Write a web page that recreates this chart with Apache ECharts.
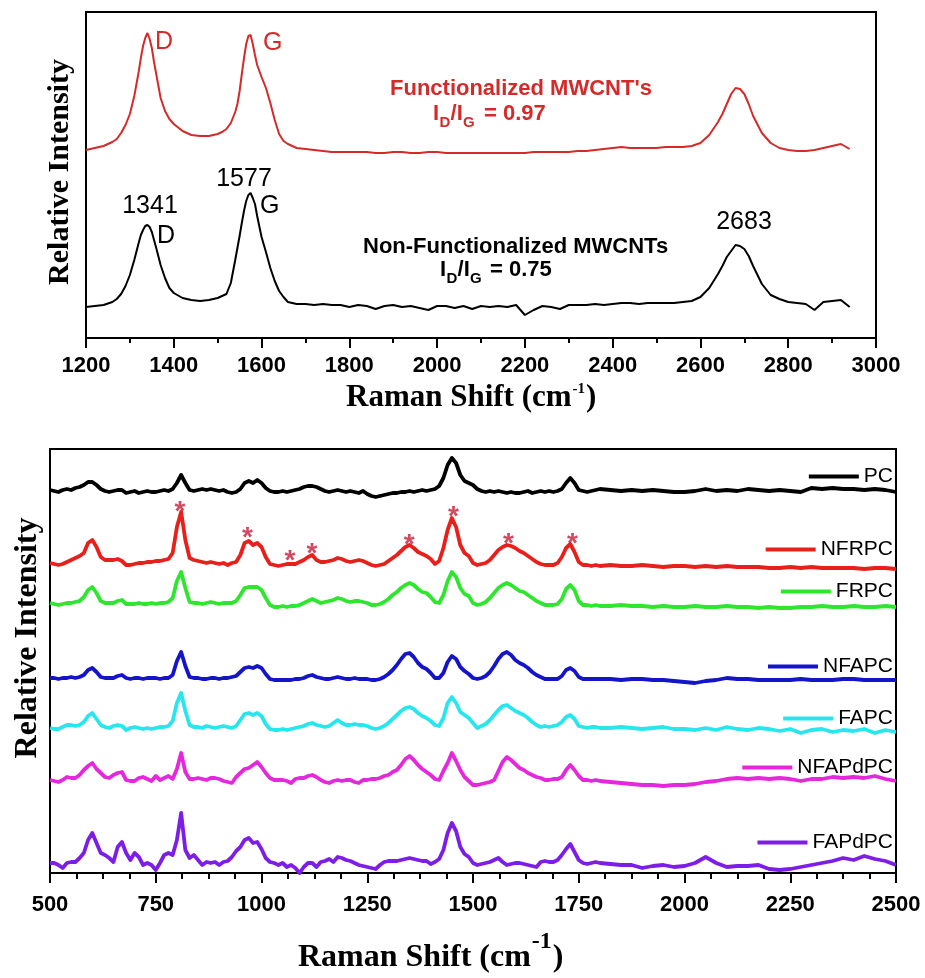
<!DOCTYPE html>
<html><head><meta charset="utf-8">
<script src="https://cdn.jsdelivr.net/npm/echarts@6/dist/echarts.min.js"></script>
<style>html,body{margin:0;padding:0;background:#fff}#c{width:925px;height:978px}</style>
</head><body><div id="c"></div>
<script>
// ---------- Top panel: MWCNT Raman spectra ----------
const topX = [1200,1220,1240,1260,1270,1280,1290,1300,1310,1320,1325,1330,1335,1340,1345,1350,1355,1360,1370,1380,1390,1400,1420,1440,1460,1480,1500,1510,1520,1530,1540,1545,1550,1555,1560,1565,1570,1575,1580,1585,1590,1600,1610,1620,1630,1640,1650,1660,1680,1700,1720,1740,1760,1780,
1800,1820,1840,1860,1880,1900,1920,1940,1960,1980,2000,2020,2040,2060,2080,2100,2120,2140,2160,2180,2200,2220,2240,2260,2280,2300,2320,2340,2360,2380,2400,2420,2440,2460,2480,2500,2520,2540,2560,
2580,2600,2620,2640,2650,2660,2670,2680,2690,2700,2710,2720,2740,2760,2780,2800,2820,2840,2860,2880,2900,2920,2940];
const functionalized = [188,190,192,196,199,205,213,224,242,266,280,292,300,305,299,290,276,264,240,227,219,214,207,203,202,202,204,206,209,215,226,234,247,264,280,294,302,303,294,283,273,261,250,235,218,204,197,194,190,189,188,187,186,186,
186,186,186,185,185,186,186,185,185,186,186,185,185,185,185,185,185,185,185,185,185,186,186,186,186,186,187,187,188,189,190,191,190,190,190,190,191,191,191,
192,195,203,216,224,234,244,250,249,244,234,222,205,195,190,188,187,187,188,190,192,194,189];
const nonFunctionalized = [31,32,33,36,39,44,52,63,78,95,103,108,112,113,111,106,98,90,73,60,50,45,40,38,37,38,40,42,44,55,78,90,102,115,127,137,143,145,140,134,122,101,86,70,57,47,41,36,34,34,33,34,33,33,
31,33,32,29,32,33,31,32,30,28,32,32,30,32,29,32,31,32,31,33,23,28,32,31,29,33,33,33,34,33,34,35,35,34,35,35,35,35,36,
37,41,50,64,72,81,87,93,92,89,82,72,54,43,39,36,35,34,28,36,37,38,31];

// ---------- Bottom panel: composite spectra ----------
const botX = [500,510,520,530,540,550,560,570,580,590,600,610,620,630,640,650,660,670,680,690,700,710,720,730,740,750,760,770,780,790,
800,810,820,830,840,850,860,870,880,890,900,910,920,930,940,950,960,970,980,990,1000,1010,1020,1030,1040,1050,1060,1070,1080,1090,
1100,1110,1120,1130,1140,1150,1160,1170,1180,1190,1200,1210,1220,1230,1240,1250,1260,1270,1280,1290,1300,1310,1320,1330,1340,1350,1360,1370,1380,1390,
1400,1410,1420,1430,1440,1450,1460,1470,1480,1490,1500,1510,1520,1530,1540,1550,1560,1570,1580,1590,1600,1610,1620,1630,1640,1650,1660,1670,1680,1690,
1700,1710,1720,1730,1740,1750,1760,1770,1780,1790,1800,
1825,1850,1875,1900,1925,1950,1975,2000,2025,2050,2075,2100,2125,2150,2175,2200,2225,2250,2275,2300,2325,2350,2375,2400,2425,2450,2475,2500];
const PC = [383,382,381,383,384,383,385,386,388,391, 391,388,384,382,381,382,383,383,380,381, 382,380,381,382,381,381,382,383,382,384,
390,398,390,383,382,383,384,383,384,383, 382,383,381,380,381,384,390,392,390,393, 390,385,382,381,381,382,381,382,383,384,
386,387,387,386,384,382,381,382,383,382, 381,382,381,380,382,379,377,376,377,378, 379,380,380,381,381,382,381,382,383,382,
383,384,387,395,408,415,410,398,392,390, 388,384,382,381,382,381,382,381,380,381, 380,380,381,382,380,381,382,381,382,381,
382,384,390,395,390,383,382,381,382,383, 384,
383,382,383,382,383,382,381,381,382,384,382,383,382,384,383,382,383,382,381,385,384,385,384,384,383,384,383,381];
const NFRPC = [310,309,308,309,311,313,315,317,320,330, 333,326,316,313,313,313,314,312,308,308, 309,310,310,311,311,312,312,313,314,320,
346,361,333,315,313,312,311,310,311,310, 309,310,308,310,311,318,330,332,328,330, 326,316,309,308,307,308,309,309,309,311,
313,316,318,313,311,311,312,313,315,314, 312,311,312,313,312,310,308,307,308,309, 312,315,318,322,326,328,325,321,319,317,
314,309,312,325,343,355,346,328,320,317, 310,308,309,310,313,318,323,326,328,327, 325,322,320,317,314,311,309,308,308,308,
310,316,325,329,321,311,308,308,307,308, 307,
308,307,307,308,307,306,307,307,306,307,306,307,306,306,306,305,305,306,305,306,305,305,305,305,304,305,305,304];
const FRPC = [270,269,268,269,270,270,271,272,276,283, 286,280,272,270,270,270,272,273,269,269, 269,270,269,269,270,269,270,270,271,275,
292,301,285,271,270,270,269,270,271,270, 269,270,270,270,272,278,285,286,286,286, 283,275,268,266,266,267,266,267,267,268,
270,272,274,272,270,271,272,273,275,274, 272,271,272,272,271,270,268,268,269,271, 274,278,281,285,288,290,288,284,281,280,
276,271,270,278,292,301,296,285,279,277, 270,268,269,271,275,280,285,288,290,288, 285,282,281,278,275,272,270,268,268,268,
269,274,284,288,283,272,268,268,267,268, 267,
267,268,267,267,266,267,266,266,267,266,266,267,266,266,265,266,265,265,266,266,267,266,266,267,266,266,267,266];
const NFAPC = [195,195,194,195,195,196,195,196,198,203, 205,201,196,195,195,195,197,198,195,194, 195,195,194,195,195,195,194,195,195,198,
212,221,207,196,195,195,194,194,195,195, 194,195,195,196,197,201,205,206,205,207, 205,199,194,193,193,193,193,193,194,194,
195,197,198,196,195,194,194,195,196,195, 194,194,195,194,194,194,193,193,194,196, 199,203,208,214,219,220,216,210,206,204,
200,195,195,200,211,217,214,206,202,199, 195,194,195,197,201,207,214,219,221,218, 213,210,208,205,201,198,196,194,194,194,
194,197,203,205,202,196,194,194,194,194, 194,
194,193,194,194,193,193,192,191,190,192,193,195,194,194,193,193,193,193,194,193,193,193,194,194,193,193,193,193];
const FAPC = [145,144,144,146,148,148,147,148,151,157, 160,154,148,146,145,147,148,147,143,145, 146,145,144,145,144,145,146,146,147,152,
170,180,162,148,146,146,145,147,146,145, 146,147,146,145,147,153,159,160,158,160, 157,149,144,143,143,144,143,144,145,146,
147,149,150,148,147,146,147,150,153,150, 148,148,149,148,148,147,145,144,145,147, 150,154,158,162,165,166,164,160,157,155,
152,148,147,155,170,176,170,161,158,155, 150,145,147,149,153,158,163,167,168,165, 162,160,158,155,151,148,146,147,146,147,
148,151,156,158,154,147,146,145,146,146, 145,
145,146,145,144,145,146,144,144,143,145,143,146,144,143,145,144,142,144,140,143,144,141,143,142,144,140,143,141];
const NFAPdPC = [93,92,91,93,96,95,95,98,103,107, 110,104,100,96,95,98,100,101,93,92, 92,95,96,94,92,97,93,95,97,94,
104,120,101,94,94,95,94,93,95,95, 94,92,91,90,96,100,104,105,108,111, 106,100,95,93,93,93,92,90,94,95,
95,97,98,96,93,91,90,92,93,92, 93,93,91,90,93,93,94,94,95,97, 98,101,103,108,114,117,113,108,104,101,
98,94,93,102,110,120,112,103,96,92, 88,88,89,90,91,93,102,111,116,113, 109,105,103,100,98,96,95,93,93,94,
94,96,103,108,103,97,93,93,92,93, 92,
91,90,89,88,88,87,88,88,89,91,92,94,95,94,95,94,95,94,92,94,94,96,95,96,95,97,94,92];
const FAPdPC = [10,10,8,5,10,11,11,15,20,33, 40,30,20,18,15,11,26,31,20,13, 20,16,8,10,8,3,10,18,20,18,
33,60,23,15,18,13,8,11,10,11, 8,11,12,16,22,26,33,35,30,31, 24,15,11,10,8,10,6,8,5,0,
6,10,10,6,11,12,14,11,16,15, 13,12,10,8,7,6,5,4,8,11, 12,12,12,13,14,15,14,13,12,12,
9,11,14,23,40,50,42,26,19,16, 10,8,9,10,11,13,15,11,8,9, 10,10,9,8,7,6,11,12,11,11,
13,18,24,29,21,13,10,9,10,11, 10,
9,8,8,5,7,8,6,7,10,16,10,6,7,7,8,4,3,4,6,8,10,12,15,13,17,14,12,8];
const starX = [807, 967, 1067, 1119, 1349, 1454, 1584, 1735];
const starY = [368, 342, 319, 326, 335, 363, 336, 336];

const botNames = ['PC','NFRPC','FRPC','NFAPC','FAPC','NFAPdPC','FAPdPC'];
const botSeries = [PC, NFRPC, FRPC, NFAPC, FAPC, NFAPdPC, FAPdPC];
const botColors = ['#000000','#e8201c','#2ee62e','#1414c8','#28e6ee','#e628dc','#7d1ee6'];
const legendCenters = [477, 550, 592, 667, 719, 768, 843];

const SANS = "'Liberation Sans', Arial, sans-serif";
const SERIF = "'Liberation Serif', 'Times New Roman', serif";

const pair = (xs, ys) => xs.map((x, i) => [x, ys[i]]);

function xAxisDef(gridIndex, min, max, interval, minorSplit, minorLen, margin) {
  return {
    type: 'value', gridIndex, min, max, interval,
    axisLine: {show: true, onZero: false, lineStyle: {color: '#000', width: 2}},
    axisTick: {show: true, inside: false, length: 10, lineStyle: {color: '#000', width: 2}},
    minorTick: {show: true, splitNumber: minorSplit, length: minorLen, lineStyle: {color: '#000', width: 2}},
    axisLabel: {show: true, margin, color: '#000', fontSize: 22, fontWeight: 'bold', fontFamily: SANS,
      formatter: v => String(v)},
    splitLine: {show: false}, minorSplitLine: {show: false}
  };
}
function yAxisDef(gridIndex, max) {
  return {
    type: 'value', gridIndex, min: 0, max,
    axisLine: {show: true, onZero: false, lineStyle: {color: '#000', width: 2}},
    axisTick: {show: false}, axisLabel: {show: false}, splitLine: {show: false}
  };
}

const series = [
  {name: "Functionalized MWCNT's", type: 'line', xAxisIndex: 0, yAxisIndex: 0, data: pair(topX, functionalized),
   showSymbol: false, symbol: 'none', lineStyle: {color: '#d42a2a', width: 2}, itemStyle: {color: '#d42a2a'}},
  {name: 'Non-Functionalized MWCNTs', type: 'line', xAxisIndex: 0, yAxisIndex: 0, data: pair(topX, nonFunctionalized),
   showSymbol: false, symbol: 'none', lineStyle: {color: '#000', width: 2}, itemStyle: {color: '#000'}}
];
botNames.forEach((n, k) => {
  series.push({name: n, type: 'line', xAxisIndex: 1, yAxisIndex: 1, data: pair(botX, botSeries[k]),
    showSymbol: false, symbol: 'none', lineStyle: {color: botColors[k], width: 3.8, join: 'round'}, itemStyle: {color: botColors[k]}});
});
series.push({name: 'marks', type: 'scatter', xAxisIndex: 1, yAxisIndex: 1, data: pair(starX, starY),
  symbol: 'circle', symbolSize: 1, itemStyle: {color: 'rgba(0,0,0,0)'}, silent: true, z: 5,
  label: {show: true, formatter: '*', position: 'inside', color: '#c41e3a', fontSize: 28, fontWeight: 'bold', fontFamily: SANS, offset: [0, 7]}});

const legends = botNames.map((n, k) => ({
  data: [n], right: 32, top: legendCenters[k] - 11, padding: 0, selectedMode: false,
  icon: 'rect', itemWidth: 50, itemHeight: 4,
  textStyle: {fontSize: 21, fontFamily: SANS, color: '#000'}
}));

function txt(x, y, text, opt) {
  return Object.assign({type: 'text', x, y, silent: true, z: 10,
    style: Object.assign({text, fontSize: 25, fontFamily: SANS, fill: '#000', align: 'left', verticalAlign: 'middle'}, opt || {})});
}
// I_D/I_G = value, built from main and subscript pieces
function ratioText(x0, y, col, value, eqGap) {
  const m = {fill: col, fontSize: 22, fontWeight: 'bold'};
  const s = {fill: col, fontSize: 15, fontWeight: 'bold'};
  return [
    txt(x0, y, 'I', m),
    txt(x0 + 6.6, y + 9, 'D', s),
    txt(x0 + 17.6, y, '/I', m),
    txt(x0 + 30, y + 9, 'G', s),
    txt(x0 + eqGap, y, '= ' + value, m)
  ];
}
// axis title with superscript
function axisTitle(x0, y, big, sup, supRaise) {
  const a = {fontSize: big, fontWeight: 'bold', fontFamily: SERIF};
  const wMain = 7.277 * big;
  const wSup = 0.833 * sup;
  return [
    txt(x0, y, 'Raman Shift (cm', a),
    txt(x0 + wMain + 1, y - supRaise, '-1', {fontSize: sup, fontWeight: 'bold', fontFamily: SERIF}),
    txt(x0 + wMain + wSup + 2, y, ')', a)
  ];
}

const RED = '#d42a2a';
const graphics = [
  txt(155, 42, 'D', {fill: RED}),
  txt(263, 43, 'G', {fill: RED}),
  txt(150, 206, '1341', {align: 'center'}),
  txt(157, 236, 'D'),
  txt(244, 179, '1577', {align: 'center'}),
  txt(260, 206, 'G'),
  txt(744, 222, '2683', {align: 'center'}),
  txt(390, 89, "Functionalized MWCNT's", {fill: RED, fontSize: 22, fontWeight: 'bold'}),
  ...ratioText(433, 114, RED, '0.97', 51),
  txt(363, 247, 'Non-Functionalized MWCNTs', {fontSize: 22, fontWeight: 'bold'}),
  ...ratioText(440, 270, '#000', '0.75', 50),
  ...axisTitle(346, 398, 31, 15, 9),
  Object.assign(txt(60, 172, 'Relative Intensity', {align: 'center', fontSize: 30, fontWeight: 'bold', fontFamily: SERIF}), {rotation: Math.PI / 2}),
  ...axisTitle(298, 958, 32, 24, 16),
  Object.assign(txt(28, 638, 'Relative Intensity', {align: 'center', fontSize: 32, fontWeight: 'bold', fontFamily: SERIF}), {rotation: Math.PI / 2})
];

const chart = echarts.init(document.getElementById('c'), null, {renderer: 'canvas'});
chart.setOption({
  animation: false,
  backgroundColor: '#fff',
  grid: [
    {left: 86, top: 12, width: 790, height: 326, show: true, borderColor: '#000', borderWidth: 2, backgroundColor: 'transparent'},
    {left: 50, top: 449, width: 846, height: 424, show: true, borderColor: '#000', borderWidth: 2, backgroundColor: 'transparent'}
  ],
  xAxis: [xAxisDef(0, 1200, 3000, 200, 2, 5, 17), xAxisDef(1, 500, 2500, 250, 4, 6, 21)],
  yAxis: [yAxisDef(0, 326), yAxisDef(1, 424)],
  legend: legends,
  series,
  graphic: graphics
});
</script></body></html>
